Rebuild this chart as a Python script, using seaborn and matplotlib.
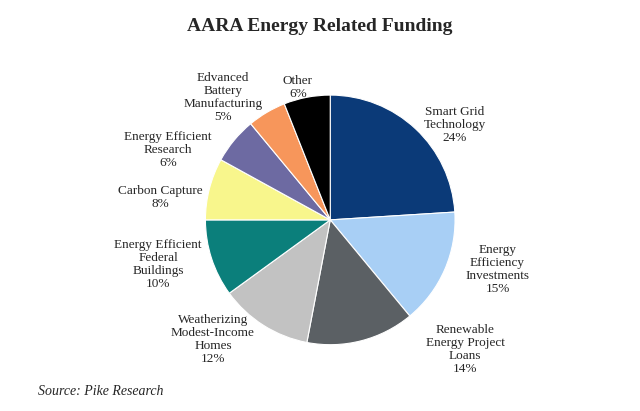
import matplotlib.pyplot as plt
import seaborn as sns

categories = [
    "Smart Grid\nTechnology", "Energy\nEfficiency\nInvestments", "Renewable\nEnergy Project\nLoans",
    "Weatherizing\nModest-Income\nHomes", "Energy Efficient\nFederal\nBuildings", "Carbon Capture",
    "Energy Efficient\nResearch", "Edvanced\nBattery\nManufacturing", "Other",
]
shares = [24, 15, 14, 12, 10, 8, 6, 5, 6]
colors = ["#0b3a78", "#a8cff5", "#5b6064", "#c2c2c2", "#0b7f7b",
          "#f8f68c", "#6d6aa2", "#f7965b", "#000000"]
# label anchor points, in pie-radius units
label_pos = [(1.0, 0.76), (1.34, -0.4), (1.08, -1.04), (-0.94, -0.96), (-1.38, -0.36),
             (-1.36, 0.18), (-1.30, 0.56), (-0.86, 0.98), (-0.26, 1.06)]

sns.set_style("white")
plt.rcParams["font.family"] = ["Liberation Serif", "DejaVu Serif"]

fig = plt.figure(figsize=(6.4, 4.11), dpi=100)
ax = fig.add_axes([0.321, 0.161, 0.39, 0.608])
labels = [f"{c}\n{s}%" for c, s in zip(categories, shares)]
wedges, texts = ax.pie(shares, colors=colors, startangle=90, counterclock=False,
                       labels=labels, textprops={"fontsize": 9.5, "linespacing": 1.1},
                       wedgeprops={"edgecolor": "white", "linewidth": 0.8})
for t, p in zip(texts, label_pos):
    t.set_position(p)
    t.set_ha("center")
    t.set_va("center")
    t.set_multialignment("center")
ax.set_xlim(-1, 1)
ax.set_ylim(-1, 1)
ax.set_aspect("equal")

fig.text(0.5, 0.925, "AARA Energy Related Funding", ha="center", fontsize=14, fontweight="bold")
fig.text(0.06, 0.04, "Source: Pike Research", fontsize=10, style="italic")
fig.savefig("out.png", dpi=100)
